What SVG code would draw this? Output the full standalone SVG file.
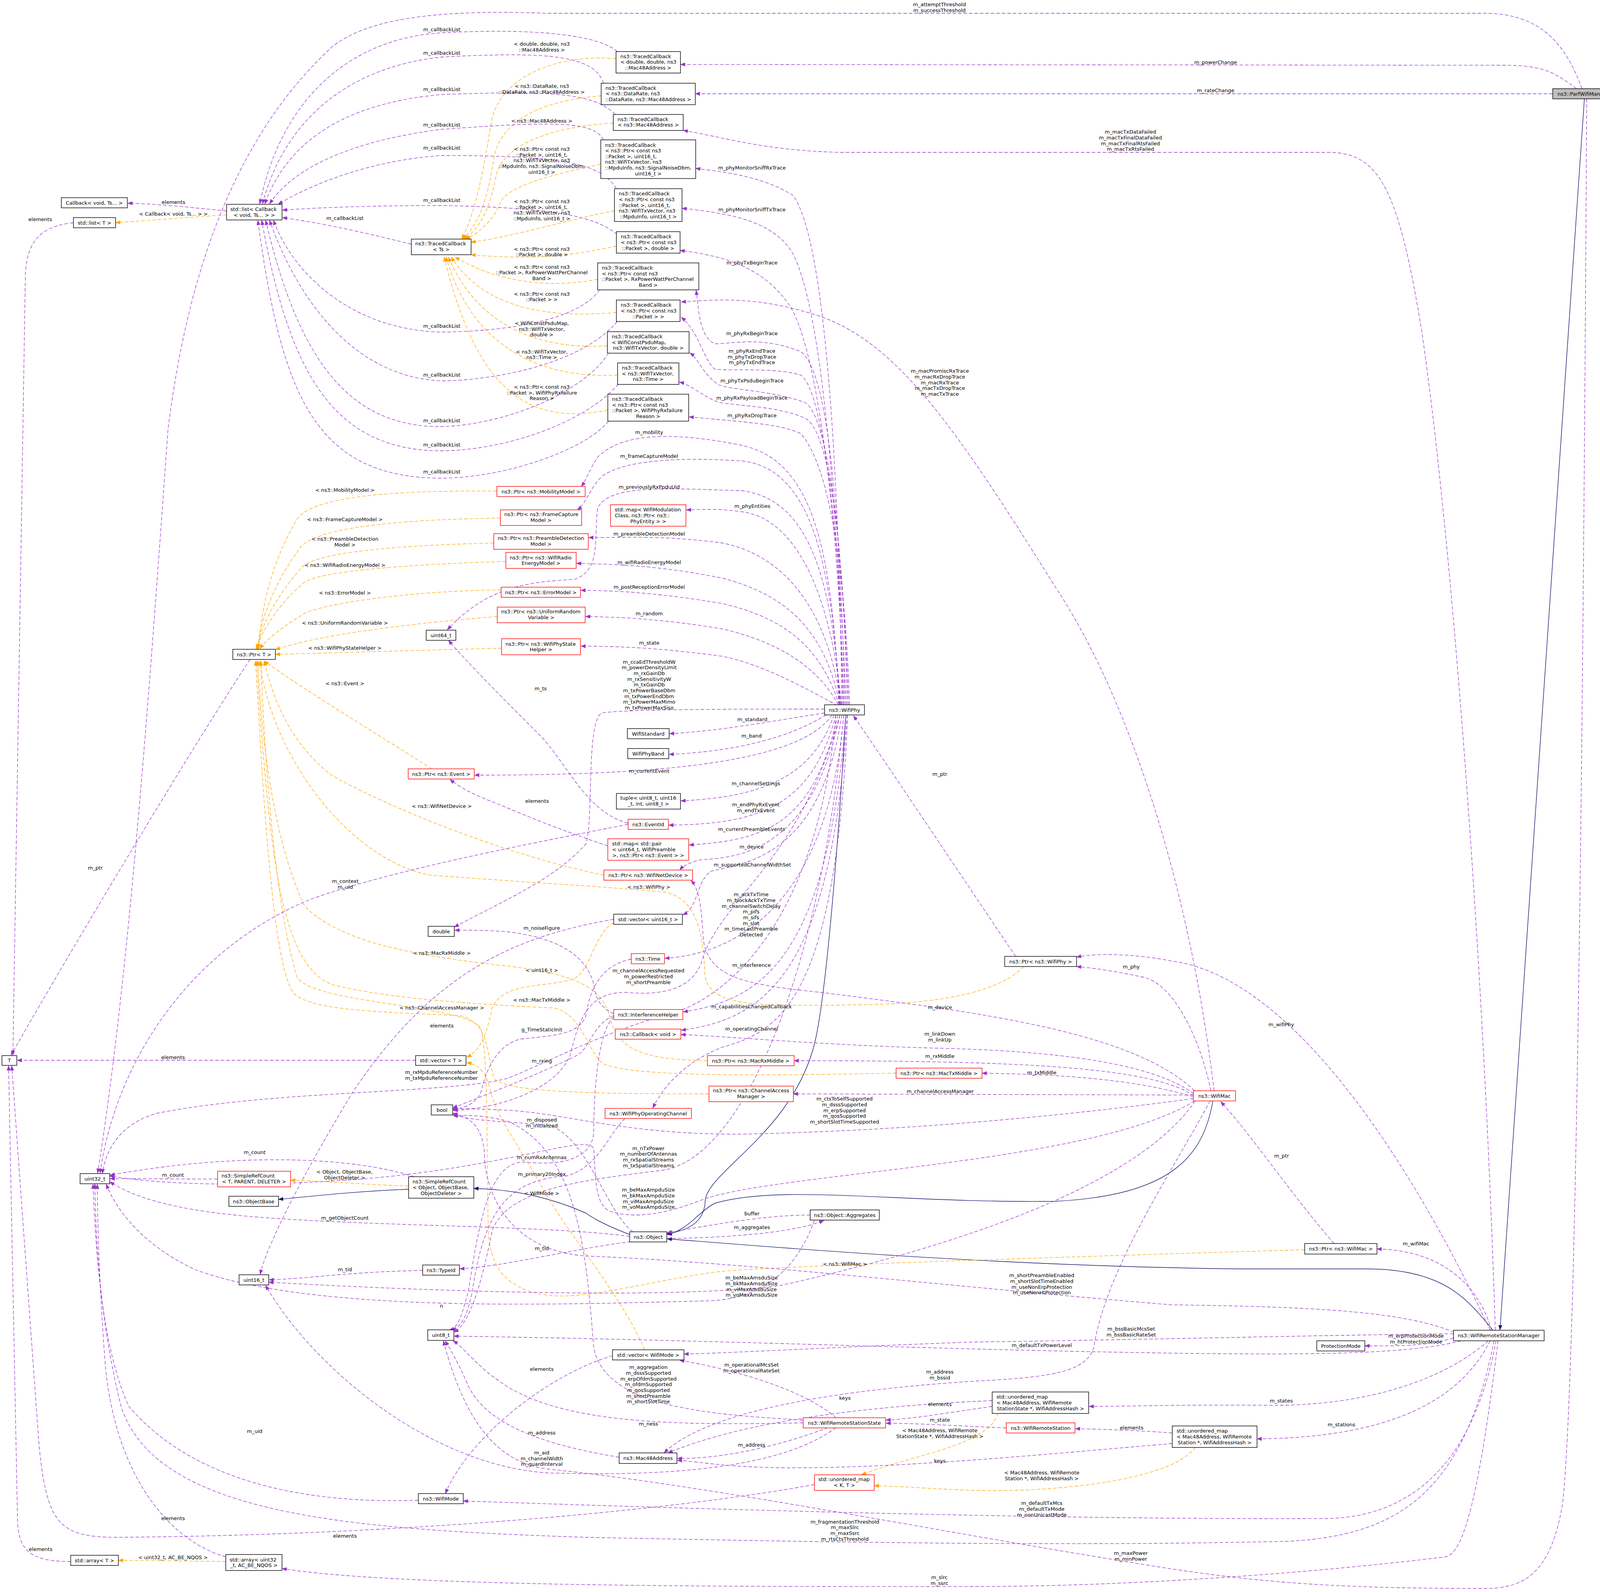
<svg xmlns="http://www.w3.org/2000/svg" width="4172" height="4075" viewBox="0 0 4172 4075">
<style>
text{font-family:"DejaVu Sans","Liberation Sans",sans-serif;font-size:13px;fill:#000}
.c{text-anchor:middle}
.s{text-anchor:start}
.n rect{fill:#fff;stroke:#000;stroke-width:1.4}
.r rect{fill:#fff;stroke:#ff0000;stroke-width:1.4}
.g rect{fill:#bfbfbf;stroke:#000;stroke-width:1.4}
.p path{fill:none;stroke:#9a32cd;stroke-width:1.3;stroke-dasharray:9,5;marker-end:url(#ap)}
.o path{fill:none;stroke:#ffa500;stroke-width:1.3;stroke-dasharray:9,5;marker-end:url(#ao)}
.i path{fill:none;stroke:#191970;stroke-width:1.4;marker-end:url(#ai)}
</style>
<defs>
<marker id="ap" viewBox="0 0 13 10" refX="12" refY="5" markerWidth="13" markerHeight="10" markerUnits="userSpaceOnUse" orient="auto"><path d="M0,0L13,5L0,10z" fill="#9a32cd"/></marker>
<marker id="ao" viewBox="0 0 13 10" refX="12" refY="5" markerWidth="13" markerHeight="10" markerUnits="userSpaceOnUse" orient="auto"><path d="M0,0L13,5L0,10z" fill="#ffa500"/></marker>
<marker id="ai" viewBox="0 0 13 10" refX="12" refY="5" markerWidth="13" markerHeight="10" markerUnits="userSpaceOnUse" orient="auto"><path d="M0,0L13,5L0,10z" fill="#191970"/></marker>
</defs>
<rect width="4172" height="4075" fill="#fff"/>
<g id="edges">
<g class="i">
<path d="M4056,253 L3840,3404"/>
<path d="M3822,3405 C3760,3330 3700,3248 3500,3248 L3175,3248 C2500,3240 1900,3185 1708,3171"/>
<path d="M3105,2818 C3080,2960 3000,3060 2700,3075 C2300,3080 2000,3030 1830,3080 C1790,3100 1760,3150 1708,3160"/>
<path d="M2165,1830 C2150,2100 2120,2500 2090,2650 C2040,2900 1800,3000 1805,3080 C1800,3130 1760,3150 1708,3158"/>
<path d="M1612,3160 C1560,3140 1520,3120 1500,3105 C1420,3070 1330,3045 1213,3042"/>
<path d="M1046,3044 C900,3050 800,3062 713,3070"/>
</g>
<g class="o">
<path d="M580,550 C500,555 400,563 296,570"/>
<path d="M1046,3036 C900,3030 800,3022 744,3021"/>
<path d="M578,3997 C480,3996 400,3994 303,3994"/>
<path d="M1571,2362 C1520,2390 1515,2480 1470,2505 C1400,2530 1290,2510 1260,2580 C1245,2650 1230,2690 1195,2706"/>
<path d="M1650,3455 C1600,3330 1450,3150 1400,3060 C1340,2950 1270,2860 1255,2790 C1245,2745 1225,2725 1195,2720"/>
<path d="M2555,3617 C2530,3700 2350,3720 2205,3775"/>
<path d="M3060,3704 C3000,3790 2700,3820 2500,3815 C2400,3812 2320,3805 2238,3803"/>
<path d="M1577,150 C1470,140 1300,170 1260,300 C1240,420 1220,540 1182,612"/>
<path d="M1539,245 C1420,255 1290,290 1265,400 C1250,500 1230,570 1185,612"/>
<path d="M1570,315 C1440,322 1290,360 1270,450 C1255,530 1230,585 1188,612"/>
<path d="M1538,420 C1450,440 1300,470 1280,520 C1265,560 1230,595 1192,612"/>
<path d="M1573,540 C1460,560 1320,605 1206,620"/>
<path d="M1578,630 C1480,650 1380,668 1206,652"/>
<path d="M1530,715 C1400,740 1270,720 1165,658"/>
<path d="M1578,800 C1400,815 1240,790 1155,658"/>
<path d="M1555,885 C1400,895 1230,850 1148,658"/>
<path d="M1581,960 C1400,970 1210,900 1142,658"/>
<path d="M1556,1050 C1350,1090 1220,1000 1137,658"/>
<path d="M1272,1257 C1000,1255 800,1270 760,1330 C700,1430 668,1550 662,1661"/>
<path d="M1281,1326 C1050,1330 820,1345 770,1400 C710,1480 665,1580 660,1661"/>
<path d="M1264,1390 C1050,1395 820,1410 775,1450 C720,1510 670,1590 658,1661"/>
<path d="M1295,1437 C1050,1445 830,1460 780,1490 C730,1530 675,1600 656,1661"/>
<path d="M1283,1510 C1050,1512 830,1545 780,1570 C720,1605 680,1640 665,1661"/>
<path d="M1273,1578 C1000,1600 800,1630 705,1663"/>
<path d="M1284,1659 L705,1675"/>
<path d="M1105,1968 C1000,1900 800,1780 676,1692"/>
<path d="M1546,2240 C1300,2190 1000,2070 850,1985 C740,1900 700,1790 676,1692"/>
<path d="M2620,2474 C2560,2540 2400,2570 2200,2572 C1950,2575 1820,2580 1805,2500 C1800,2400 1790,2300 1700,2283 C1550,2270 1300,2255 1100,2240 C900,2200 700,1950 664,1692"/>
<path d="M3340,3199 C2800,3215 2000,3240 1850,3254 C1700,3270 1500,3330 1400,3315 C1300,3300 1255,3250 1250,3150 C1245,2900 1250,2700 1230,2630 C1180,2570 800,2570 760,2500 C700,2300 675,1900 668,1692"/>
<path d="M1811,2715 C1650,2712 1580,2690 1560,2600 C1540,2520 1450,2490 1300,2473 C1050,2445 870,2410 780,2320 C700,2150 670,1900 660,1692"/>
<path d="M2294,2747 C2000,2752 1600,2760 1540,2720 C1500,2680 1490,2600 1420,2580 C1300,2575 1000,2560 850,2520 C720,2470 690,2200 657,1692"/>
<path d="M1815,2800 C1500,2800 1290,2795 1265,2760 C1245,2700 1255,2620 1180,2600 C1000,2590 790,2590 750,2540 C690,2450 668,1900 654,1692"/>
</g>
<g class="p">
<path d="M4050,227 C4010,120 3950,34 3800,34 L1400,34 C1150,25 950,40 850,120 C600,350 480,700 430,1100 C380,1800 330,2500 250,3003"/>
<path d="M4036,227 C3980,185 3950,167 3850,167 L1742,165"/>
<path d="M3975,240 L1780,240"/>
<path d="M3828,3405 C3800,2500 3720,1400 3640,850 C3580,480 3530,390 3400,390 L2150,390 C1950,385 1850,350 1749,334"/>
<path d="M4062,253 C4055,1500 4040,3500 4000,3850 C3970,4030 3900,4066 3800,4066 C3400,4066 3200,4050 2900,4000 C2400,3920 1800,3800 1400,3760 C1250,3740 1180,3600 1135,3432"/>
<path d="M3815,3405 C3600,2950 3300,2500 3000,2460 C2900,2440 2800,2440 2756,2450"/>
<path d="M3818,3405 C3790,3300 3700,3200 3525,3197"/>
<path d="M3721,3425 C3650,3445 3600,3445 3494,3445"/>
<path d="M3810,3432 C3700,3530 3500,3600 3246,3597 C3000,3595 2900,3600 2788,3600"/>
<path d="M3815,3432 C3750,3560 3600,3680 3218,3683"/>
<path d="M3722,3410 C3600,3360 3400,3345 3000,3340 C2500,3300 1900,3230 1500,3215 C1300,3200 1240,3050 1240,2950 C1235,2890 1210,2860 1159,2850"/>
<path d="M3721,3414 C3400,3417 3000,3428 2500,3435 C2200,3445 1900,3462 1751,3466"/>
<path d="M3740,3432 C3600,3470 3300,3470 2800,3460 C2300,3450 1800,3430 1162,3420"/>
<path d="M3830,3432 C3780,3700 3650,3880 3400,3887 C2800,3890 2000,3870 1186,3842"/>
<path d="M3825,3432 C3750,3800 3600,3930 3300,3945 C2700,3960 2000,3945 1500,3935 C900,3915 400,3880 310,3600 C260,3400 245,3200 243,3030"/>
<path d="M3835,3432 C3790,3800 3750,3980 3700,3985 C3500,4010 3000,4060 2500,4061 C1800,4062 1000,4060 722,4015"/>
<path d="M3100,2792 C3070,2650 3000,2510 2920,2500 C2850,2485 2800,2478 2756,2474"/>
<path d="M3108,2792 C3050,2300 2900,1800 2700,1500 C2450,1100 2300,880 2100,810 C1950,760 1850,765 1744,773"/>
<path d="M3058,2792 C2900,2640 2500,2590 2100,2540 C1900,2520 1810,2500 1800,2400 C1795,2300 1785,2270 1769,2254"/>
<path d="M3056,2800 C2950,2720 2700,2690 2400,2683 C2100,2675 1900,2655 1743,2648"/>
<path d="M3056,2805 C2950,2730 2600,2715 2033,2715"/>
<path d="M3056,2808 C2900,2760 2700,2750 2514,2747"/>
<path d="M3055,2803 L2031,2800"/>
<path d="M3055,2812 C2700,2860 2300,2895 1900,2903 C1600,2905 1450,2850 1300,2842 C1230,2838 1190,2838 1159,2838"/>
<path d="M3058,2818 C2800,2980 2000,3000 1800,3070 C1700,3110 1620,3120 1560,3100 C1520,3080 1525,3000 1520,2940 C1500,2900 1300,2990 900,3020 C600,3040 400,3030 281,3010"/>
<path d="M3060,2818 C2900,3050 2400,3200 2000,3290 C1700,3330 1000,3300 688,3282"/>
<path d="M3098,2818 C3000,3000 2830,3250 2800,3450 C2780,3510 2700,3525 2500,3535 C2100,3560 1800,3620 1700,3719"/>
<path d="M3415,3183 C3300,3050 3200,2900 3125,2820"/>
<path d="M2155,1804 C2150,1300 2120,620 2030,500 C1950,450 1850,440 1781,431"/>
<path d="M2158,1804 C2150,1400 2110,800 2030,650 C1980,560 1850,545 1746,533"/>
<path d="M2160,1804 C2150,1400 2100,900 2020,780 C1950,680 1850,655 1741,641"/>
<path d="M2163,1804 C2150,1300 2120,950 2050,900 C1950,860 1880,880 1830,880 C1790,860 1790,800 1782,743"/>
<path d="M2166,1804 C2150,1400 2110,1000 2050,960 C1980,940 1880,950 1830,945 C1800,920 1790,850 1744,812"/>
<path d="M2169,1804 C2160,1400 2120,1060 2060,1030 C1980,1000 1880,1000 1840,985 C1800,960 1790,920 1766,903"/>
<path d="M2172,1804 C2160,1450 2130,1100 2060,1070 C1990,1040 1900,1040 1840,1030 C1790,1010 1770,985 1739,978"/>
<path d="M2175,1804 C2165,1500 2130,1200 2050,1110 C2000,1085 1900,1080 1764,1067"/>
<path d="M2148,1804 C2130,1400 2080,1180 1900,1140 C1750,1110 1600,1100 1530,1170 C1510,1200 1500,1230 1488,1245"/>
<path d="M2150,1804 C2130,1450 2080,1200 1900,1180 C1750,1170 1600,1175 1540,1220 C1510,1250 1500,1290 1478,1305"/>
<path d="M2152,1804 C2130,1500 2080,1280 1900,1256 C1700,1250 1560,1240 1530,1300 C1520,1380 1540,1460 1470,1483 C1350,1490 1250,1500 1145,1612"/>
<path d="M2154,1804 C2130,1550 2050,1330 1900,1310 C1830,1300 1790,1305 1757,1305"/>
<path d="M2152,1804 C2120,1550 2000,1420 1850,1390 C1700,1370 1600,1376 1507,1376"/>
<path d="M2150,1804 C2110,1600 2000,1520 1850,1480 C1700,1450 1600,1445 1476,1442"/>
<path d="M2148,1804 C2100,1650 2000,1580 1850,1545 C1700,1520 1600,1512 1487,1511"/>
<path d="M2146,1804 C2090,1700 1980,1640 1850,1610 C1700,1585 1600,1580 1499,1578"/>
<path d="M2144,1806 C2060,1760 1950,1700 1850,1680 C1700,1660 1600,1654 1487,1654"/>
<path d="M2111,1815 C1900,1815 1600,1815 1540,1825 C1500,1850 1520,2100 1500,2160 C1420,2250 1300,2300 1163,2373"/>
<path d="M2111,1825 C1950,1850 1850,1870 1714,1878"/>
<path d="M2115,1830 C2000,1900 1850,1925 1713,1931"/>
<path d="M2130,1830 C2050,1950 1700,1985 1215,1984"/>
<path d="M2135,1830 C2080,1990 1950,2040 1743,2050"/>
<path d="M2140,1830 C2080,2060 1950,2110 1712,2112"/>
<path d="M2145,1830 C2080,2120 1950,2150 1764,2163"/>
<path d="M2150,1830 C2080,2170 1900,2195 1800,2200 C1770,2205 1750,2215 1740,2227"/>
<path d="M2155,1830 C2100,2200 1900,2210 1820,2230 C1780,2260 1790,2320 1748,2342"/>
<path d="M2160,1830 C2120,2300 1900,2440 1702,2453"/>
<path d="M2165,1830 C2120,2450 1950,2560 1749,2590"/>
<path d="M2168,1830 C2130,2500 1950,2610 1744,2637"/>
<path d="M2170,1830 C2140,2550 2000,2640 1850,2680 C1750,2720 1700,2780 1671,2836"/>
<path d="M2150,1830 C2050,2200 1850,2300 1800,2450 C1780,2530 1700,2550 1600,2540 C1500,2540 1480,2620 1460,2700 C1420,2800 1250,2840 1160,2842"/>
<path d="M1571,2600 C1520,2620 1510,2680 1480,2700 C1400,2740 1300,2780 1159,2836"/>
<path d="M1616,2455 C1540,2470 1510,2530 1500,2600 C1480,2650 1420,2650 1330,2660 C1260,2680 1240,2760 1230,2800 C1210,2830 1190,2835 1159,2840"/>
<path d="M1571,2595 C1540,2580 1525,2560 1520,2520 C1500,2440 1420,2400 1300,2385 C1230,2380 1200,2381 1164,2381"/>
<path d="M1571,2603 C1530,2640 1520,2800 1520,2900 C1515,2960 1450,2985 1350,2975 C1260,2965 1230,3100 1200,3300 C1180,3380 1170,3400 1150,3404"/>
<path d="M1600,2863 C1560,2900 1530,2990 1450,3010 C1300,3020 1240,3100 1210,3300 C1195,3380 1175,3400 1155,3404"/>
<path d="M2160,1830 C2100,2500 1900,2960 1700,2995 C1500,3020 1300,3040 1260,3150 C1230,3300 1200,3390 1162,3410"/>
<path d="M2140,1830 C2100,2300 1900,2550 1700,2600 C1550,2640 1400,2720 1300,2760 C1150,2800 700,2790 400,2850 C300,2880 270,2950 262,3004"/>
<path d="M1608,2110 C1300,2170 1000,2230 800,2300 C500,2420 300,2700 256,3003"/>
<path d="M1608,2107 C1500,2080 1450,1950 1380,1880 C1300,1800 1200,1700 1148,1639"/>
<path d="M1556,2165 C1450,2130 1350,2090 1280,2060 C1200,2030 1170,2010 1152,1995"/>
<path d="M2600,2448 C2500,2300 2300,2000 2185,1832"/>
<path d="M1707,3170 C1900,3168 2050,3150 2109,3124"/>
<path d="M2074,3110 C1950,3110 1800,3140 1708,3155"/>
<path d="M2085,3123 C2040,3250 1950,3330 1800,3330 C1400,3340 800,3360 500,3250 C350,3180 290,3080 272,3031"/>
<path d="M1612,3165 C1400,3135 900,3140 600,3110 C400,3090 320,3050 281,3025"/>
<path d="M1615,3178 C1450,3200 1300,3240 1177,3248"/>
<path d="M1082,3252 C900,3255 800,3272 689,3276"/>
<path d="M557,3018 L282,3017"/>
<path d="M1060,3012 C900,2960 600,2950 282,3008"/>
<path d="M1620,3153 C1550,3100 1500,2900 1400,2880 C1300,2870 1200,2870 1160,2852"/>
<path d="M640,1688 C500,1900 200,2400 28,2701"/>
<path d="M1064,2714 L44,2714"/>
<path d="M188,570 C100,580 70,620 65,700 L33,2701"/>
<path d="M580,540 C480,530 400,522 327,520"/>
<path d="M181,3997 C80,3997 50,3970 45,3900 L22,2728"/>
<path d="M578,3985 C450,3950 300,3800 270,3500 C255,3300 250,3150 249,3031"/>
<path d="M2085,3800 C1700,3870 1000,3930 300,3935 C150,3935 120,3900 100,3700 L30,2728"/>
<path d="M1071,3840 C800,3850 500,3800 330,3600 C260,3450 245,3200 238,3031"/>
<path d="M1568,3470 C1400,3520 1200,3680 1140,3823"/>
<path d="M1571,2353 C1300,2400 1100,2500 900,2800 C750,3050 680,3200 666,3262"/>
<path d="M2140,3629 C2050,3550 1850,3500 1740,3482"/>
<path d="M2056,3635 C1800,3620 1550,3600 1520,3450 C1500,3200 1480,2950 1300,2870 C1220,2850 1180,2856 1160,2856"/>
<path d="M2056,3642 C1700,3650 1450,3640 1300,3550 C1220,3500 1190,3450 1160,3432"/>
<path d="M2120,3654 C2000,3700 1850,3735 1734,3733"/>
<path d="M2140,3654 C2000,3760 1700,3780 1400,3770 C1100,3750 800,3500 680,3290"/>
<path d="M1585,3730 C1400,3700 1250,3650 1200,3550 C1170,3480 1150,3450 1140,3432"/>
<path d="M2540,3585 C2200,3600 1900,3640 1710,3719"/>
<path d="M2540,3600 C2400,3620 2350,3630 2268,3635"/>
<path d="M2576,3655 C2450,3650 2350,3643 2268,3643"/>
<path d="M3001,3668 C2900,3660 2800,3658 2753,3657"/>
<path d="M3001,3695 C2700,3720 2300,3760 2000,3757 C1850,3755 1780,3740 1734,3738"/>
<path d="M1580,132 C1540,95 1400,70 1131,84 C900,97 720,250 665,522"/>
<path d="M1545,213 C1520,140 1400,132 1131,146 C900,170 730,300 672,522"/>
<path d="M1575,293 C1520,236 1400,232 1131,242 C900,262 740,350 678,522"/>
<path d="M1545,358 C1520,310 1420,310 1131,331 C900,360 750,430 690,522"/>
<path d="M1578,483 C1540,420 1450,398 1131,398 C950,410 800,470 712,523"/>
<path d="M1580,600 C1530,560 1450,532 1131,526 C950,526 800,532 723,538"/>
<path d="M1053,625 C950,600 850,575 723,557"/>
<path d="M1535,742 C1480,820 1300,848 1131,850 C900,845 750,700 700,564"/>
<path d="M1580,823 C1500,920 1300,972 1131,975 C900,965 760,760 690,564"/>
<path d="M1558,903 C1500,1000 1300,1087 1131,1092 C880,1094 760,900 680,564"/>
<path d="M1583,983 C1500,1080 1300,1152 1131,1154 C850,1154 740,950 670,564"/>
<path d="M1558,1078 C1500,1150 1300,1222 1131,1224 C800,1224 720,1000 660,564"/>
</g>
</g>
<g id="edge-labels">
<text class="c" x="2405" y="16">m_attemptThreshold</text><text class="c" x="2405" y="31">m_successThreshold</text>
<text class="c" x="3112" y="164">m_powerChange</text>
<text class="c" x="3112" y="236">m_rateChange</text>
<text class="c" x="2894" y="342">m_macTxDataFailed</text><text class="c" x="2894" y="357">m_macTxFinalDataFailed</text><text class="c" x="2894" y="372">m_macTxFinalRtsFailed</text><text class="c" x="2894" y="386">m_macTxRtsFailed</text>
<text class="c" x="1131" y="80">m_callbackList</text>
<text class="c" x="1131" y="140">m_callbackList</text>
<text class="c" x="1131" y="233">m_callbackList</text>
<text class="c" x="1131" y="324">m_callbackList</text>
<text class="c" x="1131" y="383">m_callbackList</text>
<text class="c" x="1131" y="517">m_callbackList</text>
<text class="c" x="883" y="563">m_callbackList</text>
<text class="c" x="1131" y="839">m_callbackList</text>
<text class="c" x="1131" y="964">m_callbackList</text>
<text class="c" x="1131" y="1081">m_callbackList</text>
<text class="c" x="1131" y="1143">m_callbackList</text>
<text class="c" x="1131" y="1212">m_callbackList</text>
<text class="c" x="444" y="522">elements</text>
<text class="c" x="444" y="552">&lt; Callback&lt; void, Ts... &gt; &gt;</text>
<text class="c" x="103" y="566">elements</text>
<text class="c" x="1387" y="117">&lt; double, double, ns3</text><text class="c" x="1387" y="132">::Mac48Address &gt;</text>
<text class="c" x="1387" y="225">&lt; ns3::DataRate, ns3</text><text class="c" x="1387" y="240">::DataRate, ns3::Mac48Address &gt;</text>
<text class="c" x="1387" y="314">&lt; ns3::Mac48Address &gt;</text>
<text class="c" x="1387" y="386">&lt; ns3::Ptr&lt; const ns3</text><text class="c" x="1387" y="401">::Packet &gt;, uint16_t,</text><text class="c" x="1387" y="415">ns3::WifiTxVector, ns3</text><text class="c" x="1387" y="430">::MpduInfo, ns3::SignalNoiseDbm,</text><text class="c" x="1387" y="445">uint16_t &gt;</text>
<text class="c" x="1387" y="520">&lt; ns3::Ptr&lt; const ns3</text><text class="c" x="1387" y="535">::Packet &gt;, uint16_t,</text><text class="c" x="1387" y="549">ns3::WifiTxVector, ns3</text><text class="c" x="1387" y="564">::MpduInfo, uint16_t &gt;</text>
<text class="c" x="1387" y="642">&lt; ns3::Ptr&lt; const ns3</text><text class="c" x="1387" y="656">::Packet &gt;, double &gt;</text>
<text class="c" x="1387" y="688">&lt; ns3::Ptr&lt; const ns3</text><text class="c" x="1387" y="702">::Packet &gt;, RxPowerWattPerChannel</text><text class="c" x="1387" y="717">Band &gt;</text>
<text class="c" x="1387" y="757">&lt; ns3::Ptr&lt; const ns3</text><text class="c" x="1387" y="771">::Packet &gt; &gt;</text>
<text class="c" x="1387" y="832">&lt; WifiConstPsduMap,</text><text class="c" x="1387" y="847">ns3::WifiTxVector,</text><text class="c" x="1387" y="861">double &gt;</text>
<text class="c" x="1387" y="905">&lt; ns3::WifiTxVector,</text><text class="c" x="1387" y="919">ns3::Time &gt;</text>
<text class="c" x="1387" y="995">&lt; ns3::Ptr&lt; const ns3</text><text class="c" x="1387" y="1010">::Packet &gt;, WifiPhyRxfailure</text><text class="c" x="1387" y="1024">Reason &gt;</text>
<text class="c" x="1925" y="434">m_phyMonitorSniffRxTrace</text>
<text class="c" x="1925" y="541">m_phyMonitorSniffTxTrace</text>
<text class="c" x="1925" y="677">m_phyTxBeginTrace</text>
<text class="c" x="1925" y="858">m_phyRxBeginTrace</text>
<text class="c" x="1925" y="903">m_phyRxEndTrace</text><text class="c" x="1925" y="918">m_phyTxDropTrace</text><text class="c" x="1925" y="932">m_phyTxEndTrace</text>
<text class="c" x="1925" y="979">m_phyTxPsduBeginTrace</text>
<text class="c" x="1925" y="1023">m_phyRxPayloadBeginTrace</text>
<text class="c" x="1925" y="1068">m_phyRxDropTrace</text>
<text class="c" x="2406" y="954">m_macPromiscRxTrace</text><text class="c" x="2406" y="969">m_macRxDropTrace</text><text class="c" x="2406" y="984">m_macRxTrace</text><text class="c" x="2406" y="998">m_macTxDropTrace</text><text class="c" x="2406" y="1013">m_macTxTrace</text>
<text class="c" x="1662" y="1111">m_mobility</text>
<text class="c" x="1662" y="1172">m_frameCaptureModel</text>
<text class="c" x="1662" y="1251">m_previouslyRxPpduUid</text>
<text class="c" x="1926" y="1300">m_phyEntities</text>
<text class="c" x="1662" y="1371">m_preambleDetectionModel</text>
<text class="c" x="1662" y="1444">m_wifiRadioEnergyModel</text>
<text class="c" x="1662" y="1507">m_postReceptionErrorModel</text>
<text class="c" x="1662" y="1575">m_random</text>
<text class="c" x="1662" y="1650">m_state</text>
<text class="c" x="1662" y="1699">m_ccaEdThresholdW</text><text class="c" x="1662" y="1713">m_powerDensityLimit</text><text class="c" x="1662" y="1728">m_rxGainDb</text><text class="c" x="1662" y="1743">m_rxSensitivityW</text><text class="c" x="1662" y="1757">m_txGainDb</text><text class="c" x="1662" y="1772">m_txPowerBaseDbm</text><text class="c" x="1662" y="1787">m_txPowerEndDbm</text><text class="c" x="1662" y="1801">m_txPowerMaxMimo</text><text class="c" x="1662" y="1816">m_txPowerMaxSiso</text>
<text class="c" x="883" y="1259">&lt; ns3::MobilityModel &gt;</text>
<text class="c" x="883" y="1334">&lt; ns3::FrameCaptureModel &gt;</text>
<text class="c" x="883" y="1384">&lt; ns3::PreambleDetection</text><text class="c" x="883" y="1399">Model &gt;</text>
<text class="c" x="883" y="1451">&lt; ns3::WifiRadioEnergyModel &gt;</text>
<text class="c" x="883" y="1522">&lt; ns3::ErrorModel &gt;</text>
<text class="c" x="883" y="1599">&lt; ns3::UniformRandomVariable &gt;</text>
<text class="c" x="883" y="1663">&lt; ns3::WifiPhyStateHelper &gt;</text>
<text class="c" x="883" y="1754">&lt; ns3::Event &gt;</text>
<text class="c" x="1384" y="1767">m_ts</text>
<text class="c" x="2406" y="1986">m_ptr</text>
<text class="c" x="1926" y="1846">m_standard</text>
<text class="c" x="1924" y="1888">m_band</text>
<text class="c" x="1662" y="1978">m_currentEvent</text>
<text class="c" x="1935" y="2010">m_channelSettings</text>
<text class="c" x="1375" y="2055">elements</text>
<text class="c" x="1935" y="2064">m_endPhyRxEvent</text><text class="c" x="1935" y="2079">m_endTxEvent</text>
<text class="c" x="1131" y="2068">&lt; ns3::WifiNetDevice &gt;</text>
<text class="c" x="1924" y="2127">m_currentPreambleEvents</text>
<text class="c" x="1924" y="2172">m_device</text>
<text class="c" x="1926" y="2218">m_supportedChannelWidthSet</text>
<text class="c" x="244" y="2226">m_ptr</text>
<text class="c" x="884" y="2260">m_context</text><text class="c" x="884" y="2275">m_uid</text>
<text class="c" x="1661" y="2275">&lt; ns3::WifiPhy &gt;</text>
<text class="c" x="1923" y="2294">m_ackTxTime</text><text class="c" x="1923" y="2309">m_blockAckTxTime</text><text class="c" x="1923" y="2324">m_channelSwitchDelay</text><text class="c" x="1923" y="2338">m_pifs</text><text class="c" x="1923" y="2353">m_sifs</text><text class="c" x="1923" y="2368">m_slot</text><text class="c" x="1923" y="2382">m_timeLastPreamble</text><text class="c" x="1923" y="2397">Detected</text>
<text class="c" x="1387" y="2380">m_noiseFigure</text>
<text class="c" x="1131" y="2444">&lt; ns3::MacRxMiddle &gt;</text>
<text class="c" x="1924" y="2475">m_interference</text>
<text class="c" x="1387" y="2488">&lt; uint16_t &gt;</text>
<text class="c" x="1660" y="2489">m_channelAccessRequested</text><text class="c" x="1660" y="2504">m_powerRestricted</text><text class="c" x="1660" y="2519">m_shortPreamble</text>
<text class="c" x="1387" y="2564">&lt; ns3::MacTxMiddle &gt;</text>
<text class="c" x="1131" y="2584">&lt; ns3::ChannelAccessManager &gt;</text>
<text class="c" x="1924" y="2581">m_capabilitiesChangedCallback</text>
<text class="c" x="2406" y="2583">m_device</text>
<text class="c" x="1131" y="2630">elements</text>
<text class="c" x="1387" y="2640">g_TimeStaticInit</text>
<text class="c" x="1924" y="2638">m_operatingChannel</text>
<text class="c" x="2406" y="2651">m_linkDown</text><text class="c" x="2406" y="2666">m_linkUp</text>
<text class="c" x="2896" y="2479">m_phy</text>
<text class="c" x="3280" y="2627">m_wifiPhy</text>
<text class="c" x="2406" y="2708">m_rxMiddle</text>
<text class="c" x="443" y="2711">elements</text>
<text class="c" x="1387" y="2720">m_rxing</text>
<text class="c" x="2667" y="2750">m_txMiddle</text>
<text class="c" x="1130" y="2749">m_rxMpduReferenceNumber</text><text class="c" x="1130" y="2764">m_txMpduReferenceNumber</text>
<text class="c" x="2407" y="2798">m_channelAccessManager</text>
<text class="c" x="2162" y="2817">m_ctsToSelfSupported</text><text class="c" x="2162" y="2832">m_dsssSupported</text><text class="c" x="2162" y="2847">m_erpSupported</text><text class="c" x="2162" y="2861">m_qosSupported</text><text class="c" x="2162" y="2876">m_shortSlotTimeSupported</text>
<text class="c" x="1387" y="2871">m_disposed</text><text class="c" x="1387" y="2886">m_initialized</text>
<text class="c" x="1660" y="2944">m_nTxPower</text><text class="c" x="1660" y="2958">m_numberOfAntennas</text><text class="c" x="1660" y="2973">m_rxSpatialStreams</text><text class="c" x="1660" y="2988">m_txSpatialStreams</text>
<text class="c" x="652" y="2954">m_count</text>
<text class="c" x="3281" y="2963">m_ptr</text>
<text class="c" x="1387" y="2967">m_numRxAntennas</text>
<text class="c" x="882" y="3004">&lt; Object, ObjectBase,</text><text class="c" x="882" y="3019">ObjectDeleter &gt;</text>
<text class="c" x="443" y="3012">m_count</text>
<text class="c" x="1387" y="3010">m_primary20Index</text>
<text class="c" x="1660" y="3050">m_beMaxAmpduSize</text><text class="c" x="1660" y="3065">m_bkMaxAmpduSize</text><text class="c" x="1660" y="3080">m_viMaxAmpduSize</text><text class="c" x="1660" y="3094">m_voMaxAmpduSize</text>
<text class="c" x="1387" y="3059">&lt; WifiMode &gt;</text>
<text class="c" x="1925" y="3111">buffer</text>
<text class="c" x="883" y="3122">m_getObjectCount</text>
<text class="c" x="1925" y="3146">m_aggregates</text>
<text class="c" x="3625" y="3188">m_wifiMac</text>
<text class="c" x="1387" y="3200">m_tid</text>
<text class="c" x="2163" y="3240">&lt; ns3::WifiMac &gt;</text>
<text class="c" x="883" y="3254">m_tid</text>
<text class="c" x="2667" y="3269">m_shortPreambleEnabled</text><text class="c" x="2667" y="3284">m_shortSlotTimeEnabled</text><text class="c" x="2667" y="3299">m_useNonErpProtection</text><text class="c" x="2667" y="3313">m_useNonHtProtection</text>
<text class="c" x="1924" y="3275">m_beMaxAmsduSize</text><text class="c" x="1924" y="3290">m_bkMaxAmsduSize</text><text class="c" x="1924" y="3305">m_viMaxAmsduSize</text><text class="c" x="1924" y="3319">m_voMaxAmsduSize</text>
<text class="c" x="1130" y="3347">n</text>
<text class="c" x="2896" y="3406">m_bssBasicMcsSet</text><text class="c" x="2896" y="3421">m_bssBasicRateSet</text>
<text class="c" x="3625" y="3424">m_erpProtectionMode</text><text class="c" x="3625" y="3439">m_htProtectionMode</text>
<text class="c" x="2667" y="3448">m_defaultTxPowerLevel</text>
<text class="c" x="1924" y="3498">m_operationalMcsSet</text><text class="c" x="1924" y="3513">m_operationalRateSet</text>
<text class="c" x="1660" y="3504">m_aggregation</text><text class="c" x="1660" y="3519">m_dsssSupported</text><text class="c" x="1660" y="3534">m_erpOfdmSupported</text><text class="c" x="1660" y="3548">m_ofdmSupported</text><text class="c" x="1660" y="3563">m_qosSupported</text><text class="c" x="1660" y="3578">m_shortPreamble</text><text class="c" x="1660" y="3592">m_shortSlotTime</text>
<text class="c" x="1387" y="3509">elements</text>
<text class="c" x="2406" y="3516">m_address</text><text class="c" x="2406" y="3531">m_bssid</text>
<text class="c" x="2163" y="3583">keys</text>
<text class="c" x="3280" y="3590">m_states</text>
<text class="c" x="2406" y="3599">elements</text>
<text class="c" x="2406" y="3639">m_state</text>
<text class="c" x="1660" y="3649">m_ness</text>
<text class="c" x="3434" y="3651">m_stations</text>
<text class="c" x="2897" y="3659">elements</text>
<text class="c" x="652" y="3668">m_uid</text>
<text class="c" x="1387" y="3672">m_address</text>
<text class="c" x="2406" y="3666">&lt; Mac48Address, WifiRemote</text><text class="c" x="2406" y="3681">StationState *, WifiAddressHash &gt;</text>
<text class="c" x="1924" y="3703">m_address</text>
<text class="c" x="1387" y="3723">m_aid</text><text class="c" x="1387" y="3738">m_channelWidth</text><text class="c" x="1387" y="3752">m_guardInterval</text>
<text class="c" x="2406" y="3744">keys</text>
<text class="c" x="2667" y="3774">&lt; Mac48Address, WifiRemote</text><text class="c" x="2667" y="3789">Station *, WifiAddressHash &gt;</text>
<text class="c" x="2667" y="3852">m_defaultTxMcs</text><text class="c" x="2667" y="3867">m_defaultTxMode</text><text class="c" x="2667" y="3882">m_nonUnicastMode</text>
<text class="c" x="443" y="3891">elements</text>
<text class="c" x="2163" y="3900">m_fragmentationThreshold</text><text class="c" x="2163" y="3914">m_maxSlrc</text><text class="c" x="2163" y="3929">m_maxSsrc</text><text class="c" x="2163" y="3944">m_rtsCtsThreshold</text>
<text class="c" x="883" y="3936">elements</text>
<text class="c" x="104" y="3970">elements</text>
<text class="c" x="2895" y="3980">m_maxPower</text><text class="c" x="2895" y="3995">m_minPower</text>
<text class="c" x="443" y="3991">&lt; uint32_t, AC_BE_NQOS &gt;</text>
<text class="c" x="2405" y="4042">m_slrc</text><text class="c" x="2405" y="4057">m_ssrc</text>
</g>
<g id="n-parf" class="g"><rect x="3975" y="227" width="163" height="26"/><text class="c" x="4056.5" y="244.5">ns3::ParfWifiManager</text></g>
<g id="n-callback" class="n"><rect x="157" y="506" width="169" height="26"/><text class="c" x="241.5" y="523.5">Callback&lt; void, Ts... &gt;</text></g>
<g id="n-listT" class="n"><rect x="188" y="557" width="108" height="26"/><text class="c" x="242" y="574.5">std::list&lt; T &gt;</text></g>
<g id="n-listcb" class="n"><rect x="580" y="523" width="142" height="40"/><text class="s" x="590" y="540">std::list&lt; Callback</text><text class="c" x="651" y="555">&lt; void, Ts... &gt; &gt;</text></g>
<g id="n-tcTs" class="n"><rect x="1053" y="612" width="153" height="40"/><text class="s" x="1063" y="628">ns3::TracedCallback</text><text class="c" x="1129.5" y="643">&lt; Ts &gt;</text></g>
<g id="n-tc1" class="n"><rect x="1577" y="132" width="165" height="55"/><text class="s" x="1588" y="148.5">ns3::TracedCallback</text><text class="s" x="1588" y="163">&lt; double, double, ns3</text><text class="c" x="1659.5" y="177.7">::Mac48Address &gt;</text></g>
<g id="n-tc2" class="n"><rect x="1539" y="213" width="241" height="55"/><text class="s" x="1550" y="229.5">ns3::TracedCallback</text><text class="s" x="1550" y="244">&lt; ns3::DataRate, ns3</text><text class="c" x="1659.5" y="258.7">::DataRate, ns3::Mac48Address &gt;</text></g>
<g id="n-tc3" class="n"><rect x="1570" y="293" width="179" height="41"/><text class="s" x="1581" y="309.8">ns3::TracedCallback</text><text class="c" x="1659.5" y="324.4">&lt; ns3::Mac48Address &gt;</text></g>
<g id="n-tc4" class="n"><rect x="1538" y="358" width="243" height="99"/><text class="s" x="1549" y="375.5">ns3::TracedCallback</text><text class="s" x="1549" y="390.1">&lt; ns3::Ptr&lt; const ns3</text><text class="s" x="1549" y="404.7">::Packet &gt;, uint16_t,</text><text class="s" x="1549" y="419.3"> ns3::WifiTxVector, ns3</text><text class="s" x="1549" y="433.9">::MpduInfo, ns3::SignalNoiseDbm,</text><text class="c" x="1659.5" y="448.5">uint16_t &gt;</text></g>
<g id="n-tc5" class="n"><rect x="1573" y="483" width="173" height="84"/><text class="s" x="1584" y="500.3">ns3::TracedCallback</text><text class="s" x="1584" y="514.9">&lt; ns3::Ptr&lt; const ns3</text><text class="s" x="1584" y="529.5">::Packet &gt;, uint16_t,</text><text class="s" x="1584" y="544.1"> ns3::WifiTxVector, ns3</text><text class="c" x="1659.5" y="558.7">::MpduInfo, uint16_t &gt;</text></g>
<g id="n-tc6" class="n"><rect x="1578" y="593" width="163" height="55"/><text class="s" x="1589" y="610.4">ns3::TracedCallback</text><text class="s" x="1589" y="625">&lt; ns3::Ptr&lt; const ns3</text><text class="c" x="1659.5" y="639.6">::Packet &gt;, double &gt;</text></g>
<g id="n-tc7" class="n"><rect x="1530" y="673" width="259" height="69"/><text class="s" x="1541" y="690.1">ns3::TracedCallback</text><text class="s" x="1541" y="704.7">&lt; ns3::Ptr&lt; const ns3</text><text class="s" x="1541" y="719.3">::Packet &gt;, RxPowerWattPerChannel</text><text class="c" x="1659.5" y="733.9">Band &gt;</text></g>
<g id="n-tc8" class="n"><rect x="1578" y="768" width="163" height="55"/><text class="s" x="1589" y="785.4">ns3::TracedCallback</text><text class="s" x="1589" y="800">&lt; ns3::Ptr&lt; const ns3</text><text class="c" x="1659.5" y="814.6">::Packet &gt; &gt;</text></g>
<g id="n-tc9" class="n"><rect x="1555" y="849" width="209" height="55"/><text class="s" x="1566" y="865.9">ns3::TracedCallback</text><text class="s" x="1566" y="880.5">&lt; WifiConstPsduMap,</text><text class="c" x="1659.5" y="895.1">ns3::WifiTxVector, double &gt;</text></g>
<g id="n-tc10" class="n"><rect x="1581" y="929" width="157" height="55"/><text class="s" x="1592" y="945.9">ns3::TracedCallback</text><text class="s" x="1592" y="960.5">&lt; ns3::WifiTxVector,</text><text class="c" x="1659.5" y="975.1">ns3::Time &gt;</text></g>
<g id="n-tc11" class="n"><rect x="1556" y="1009" width="207" height="69"/><text class="s" x="1567" y="1026.1">ns3::TracedCallback</text><text class="s" x="1567" y="1040.7">&lt; ns3::Ptr&lt; const ns3</text><text class="s" x="1567" y="1055.3">::Packet &gt;, WifiPhyRxfailure</text><text class="c" x="1659.5" y="1069.9">Reason &gt;</text></g>
<g id="n-ptrMob" class="r"><rect x="1272" y="1245" width="226" height="26"/><text class="c" x="1385" y="1262.5">ns3::Ptr&lt; ns3::MobilityModel &gt;</text></g>
<g id="n-ptrFcm" class="r"><rect x="1281" y="1305" width="208" height="40"/><text class="s" x="1291" y="1321.2">ns3::Ptr&lt; ns3::FrameCapture</text><text class="c" x="1385" y="1335.8">Model &gt;</text></g>
<g id="n-mapPhyEnt" class="r"><rect x="1563" y="1292" width="193" height="55"/><text class="s" x="1574" y="1309.4">std::map&lt; WifiModulation</text><text class="s" x="1574" y="1324">Class, ns3::Ptr&lt; ns3::</text><text class="c" x="1659.5" y="1338.6">PhyEntity &gt; &gt;</text></g>
<g id="n-ptrPdm" class="r"><rect x="1264" y="1366" width="242" height="40"/><text class="s" x="1274" y="1382.2">ns3::Ptr&lt; ns3::PreambleDetection</text><text class="c" x="1385" y="1396.8">Model &gt;</text></g>
<g id="n-ptrRadio" class="r"><rect x="1295" y="1414" width="180" height="41"/><text class="s" x="1305" y="1431.7">ns3::Ptr&lt; ns3::WifiRadio</text><text class="c" x="1385" y="1446.3">EnergyModel &gt;</text></g>
<g id="n-ptrErr" class="r"><rect x="1283" y="1503" width="203" height="26"/><text class="c" x="1384.5" y="1520.5">ns3::Ptr&lt; ns3::ErrorModel &gt;</text></g>
<g id="n-ptrRand" class="r"><rect x="1273" y="1554" width="225" height="40"/><text class="s" x="1283" y="1570.2">ns3::Ptr&lt; ns3::UniformRandom</text><text class="c" x="1385.5" y="1584.8">Variable &gt;</text></g>
<g id="n-uint64" class="n"><rect x="1091" y="1613" width="76" height="26"/><text class="c" x="1129" y="1630.5">uint64_t</text></g>
<g id="n-ptrState" class="r"><rect x="1284" y="1635" width="202" height="41"/><text class="s" x="1294" y="1652.7">ns3::Ptr&lt; ns3::WifiPhyState</text><text class="c" x="1385" y="1667.3">Helper &gt;</text></g>
<g id="n-ptrT" class="n"><rect x="596" y="1662" width="109" height="26"/><text class="c" x="650.5" y="1679.5">ns3::Ptr&lt; T &gt;</text></g>
<g id="n-wifiphy" class="n"><rect x="2111" y="1804" width="102" height="26"/><text class="c" x="2162" y="1821.5">ns3::WifiPhy</text></g>
<g id="n-std" class="n"><rect x="1606" y="1865" width="107" height="26"/><text class="c" x="1659.5" y="1882.5">WifiStandard</text></g>
<g id="n-band" class="n"><rect x="1607" y="1916" width="105" height="26"/><text class="c" x="1659.5" y="1933.5">WifiPhyBand</text></g>
<g id="n-ptrEvent" class="r"><rect x="1045" y="1968" width="169" height="26"/><text class="c" x="1129.5" y="1985.5">ns3::Ptr&lt; ns3::Event &gt;</text></g>
<g id="n-tuple" class="n"><rect x="1578" y="2031" width="164" height="40"/><text class="s" x="1588" y="2047.2">tuple&lt; uint8_t, uint16</text><text class="c" x="1660" y="2061.8">_t, int, uint8_t &gt;</text></g>
<g id="n-eventid" class="r"><rect x="1608" y="2097" width="103" height="26"/><text class="c" x="1659.5" y="2114.5">ns3::EventId</text></g>
<g id="n-mapPre" class="r"><rect x="1556" y="2147" width="207" height="55"/><text class="s" x="1567" y="2164.4">std::map&lt; std::pair</text><text class="s" x="1567" y="2179">&lt; uint64_t, WifiPreamble</text><text class="c" x="1659.5" y="2193.6">&gt;, ns3::Ptr&lt; ns3::Event &gt; &gt;</text></g>
<g id="n-ptrDev" class="r"><rect x="1546" y="2227" width="227" height="26"/><text class="c" x="1659.5" y="2244.5">ns3::Ptr&lt; ns3::WifiNetDevice &gt;</text></g>
<g id="n-vec16" class="n"><rect x="1571" y="2340" width="176" height="26"/><text class="c" x="1659" y="2357.5">std::vector&lt; uint16_t &gt;</text></g>
<g id="n-double" class="n"><rect x="1096" y="2371" width="67" height="26"/><text class="c" x="1129.5" y="2388.5">double</text></g>
<g id="n-ptrPhy" class="n"><rect x="2572" y="2448" width="184" height="26"/><text class="c" x="2664" y="2465.5">ns3::Ptr&lt; ns3::WifiPhy &gt;</text></g>
<g id="n-time" class="r"><rect x="1616" y="2441" width="85" height="26"/><text class="c" x="1658.5" y="2458.5">ns3::Time</text></g>
<g id="n-interf" class="r"><rect x="1571" y="2584" width="177" height="26"/><text class="c" x="1659.5" y="2601.5">ns3::InterferenceHelper</text></g>
<g id="n-cbvoid" class="r"><rect x="1575" y="2634" width="168" height="26"/><text class="c" x="1659" y="2651.5">ns3::Callback&lt; void &gt;</text></g>
<g id="n-T" class="n"><rect x="5" y="2702" width="38" height="25"/><text class="c" x="24" y="2719">T</text></g>
<g id="n-vecT" class="n"><rect x="1064" y="2702" width="129" height="25"/><text class="c" x="1128.5" y="2719">std::vector&lt; T &gt;</text></g>
<g id="n-ptrRx" class="r"><rect x="1811" y="2702" width="222" height="26"/><text class="c" x="1922" y="2719.5">ns3::Ptr&lt; ns3::MacRxMiddle &gt;</text></g>
<g id="n-ptrTx" class="r"><rect x="2294" y="2734" width="220" height="26"/><text class="c" x="2404" y="2751.5">ns3::Ptr&lt; ns3::MacTxMiddle &gt;</text></g>
<g id="n-ptrCam" class="r"><rect x="1815" y="2780" width="216" height="40"/><text class="s" x="1825" y="2796.2">ns3::Ptr&lt; ns3::ChannelAccess</text><text class="c" x="1923" y="2810.8">Manager &gt;</text></g>
<g id="n-wifimac" class="r"><rect x="3055" y="2792" width="108" height="26"/><text class="c" x="3109" y="2809.5">ns3::WifiMac</text></g>
<g id="n-bool" class="n"><rect x="1104" y="2828" width="55" height="26"/><text class="c" x="1131.5" y="2845.5">bool</text></g>
<g id="n-opch" class="r"><rect x="1549" y="2837" width="221" height="26"/><text class="c" x="1659.5" y="2854.5">ns3::WifiPhyOperatingChannel</text></g>
<g id="n-uint32" class="n"><rect x="205" y="3004" width="76" height="26"/><text class="c" x="243" y="3021.5">uint32_t</text></g>
<g id="n-srcT" class="r"><rect x="557" y="2998" width="187" height="40"/><text class="s" x="567" y="3014.2">ns3::SimpleRefCount</text><text class="c" x="650.5" y="3028.8">&lt; T, PARENT, DELETER &gt;</text></g>
<g id="n-srcObj" class="n"><rect x="1046" y="3012" width="167" height="55"/><text class="s" x="1056" y="3029.4">ns3::SimpleRefCount</text><text class="s" x="1056" y="3044">&lt; Object, ObjectBase,</text><text class="c" x="1129.5" y="3058.6">ObjectDeleter &gt;</text></g>
<g id="n-objbase" class="n"><rect x="586" y="3062" width="127" height="26"/><text class="c" x="649.5" y="3079.5">ns3::ObjectBase</text></g>
<g id="n-aggr" class="n"><rect x="2074" y="3097" width="177" height="26"/><text class="c" x="2162.5" y="3114.5">ns3::Object::Aggregates</text></g>
<g id="n-object" class="n"><rect x="1612" y="3153" width="95" height="26"/><text class="c" x="1659.5" y="3170.5">ns3::Object</text></g>
<g id="n-ptrMac" class="n"><rect x="3340" y="3183" width="185" height="27"/><text class="c" x="3432.5" y="3201">ns3::Ptr&lt; ns3::WifiMac &gt;</text></g>
<g id="n-typeid" class="n"><rect x="1082" y="3238" width="94" height="26"/><text class="c" x="1129" y="3255.5">ns3::TypeId</text></g>
<g id="n-uint16" class="n"><rect x="612" y="3263" width="76" height="26"/><text class="c" x="650" y="3280.5">uint16_t</text></g>
<g id="n-wrsm" class="n"><rect x="3721" y="3405" width="232" height="27"/><text class="c" x="3837" y="3423">ns3::WifiRemoteStationManager</text></g>
<g id="n-uint8" class="n"><rect x="1095" y="3404" width="67" height="27"/><text class="c" x="1128.5" y="3422">uint8_t</text></g>
<g id="n-prot" class="n"><rect x="3371" y="3432" width="123" height="26"/><text class="c" x="3432.5" y="3449.5">ProtectionMode</text></g>
<g id="n-vecMode" class="n"><rect x="1568" y="3455" width="183" height="26"/><text class="c" x="1659.5" y="3472.5">std::vector&lt; WifiMode &gt;</text></g>
<g id="n-umState" class="n"><rect x="2540" y="3563" width="247" height="55"/><text class="s" x="2551" y="3580.4">std::unordered_map</text><text class="s" x="2551" y="3595">&lt; Mac48Address, WifiRemote</text><text class="c" x="2663.5" y="3609.6">StationState *, WifiAddressHash &gt;</text></g>
<g id="n-rsState" class="r"><rect x="2056" y="3629" width="211" height="26"/><text class="c" x="2161.5" y="3646.5">ns3::WifiRemoteStationState</text></g>
<g id="n-rs" class="r"><rect x="2576" y="3642" width="176" height="26"/><text class="c" x="2664" y="3659.5">ns3::WifiRemoteStation</text></g>
<g id="n-umSta" class="n"><rect x="3001" y="3650" width="217" height="55"/><text class="s" x="3012" y="3667.4">std::unordered_map</text><text class="s" x="3012" y="3682">&lt; Mac48Address, WifiRemote</text><text class="c" x="3109.5" y="3696.6">Station *, WifiAddressHash &gt;</text></g>
<g id="n-mac48" class="n"><rect x="1585" y="3719" width="148" height="27"/><text class="c" x="1659" y="3737">ns3::Mac48Address</text></g>
<g id="n-umKT" class="r"><rect x="2085" y="3775" width="153" height="40"/><text class="s" x="2095" y="3791.2">std::unordered_map</text><text class="c" x="2161.5" y="3805.8">&lt; K, T &gt;</text></g>
<g id="n-wifimode" class="n"><rect x="1071" y="3823" width="115" height="26"/><text class="c" x="1128.5" y="3840.5">ns3::WifiMode</text></g>
<g id="n-arrT" class="n"><rect x="181" y="3981" width="122" height="26"/><text class="c" x="242" y="3998.5">std::array&lt; T &gt;</text></g>
<g id="n-arr32" class="n"><rect x="578" y="3979" width="144" height="41"/><text class="s" x="588" y="3996.7">std::array&lt; uint32</text><text class="c" x="650" y="4011.3">_t, AC_BE_NQOS &gt;</text></g>
</svg>
